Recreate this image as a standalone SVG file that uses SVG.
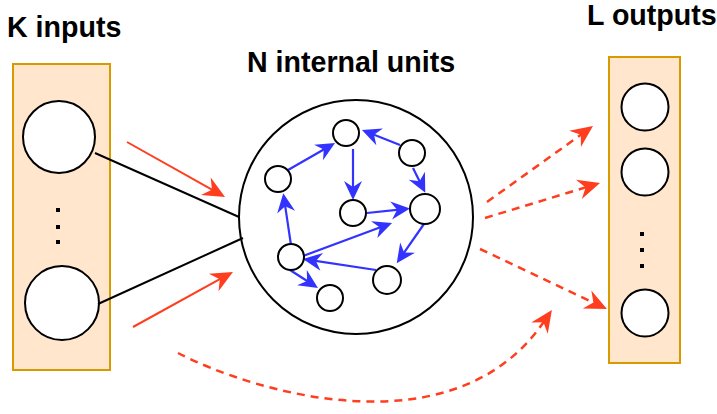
<svg xmlns="http://www.w3.org/2000/svg" width="717" height="414" viewBox="0 0 717 414">
  <style>
    .title { font-family: "Liberation Sans", Arial, sans-serif; font-weight: bold; font-size: 28.6px; fill: #000; }
    .layer { fill: #FFE6CC; stroke: #D79B00; stroke-width: 2; }
    .unit { fill: #FFFFFF; stroke: #000; stroke-width: 2; }
    .dot { fill: #000; }
    .wire { stroke: #000; stroke-width: 2; fill: none; }
    .feed { stroke: #FF3D1F; stroke-width: 2; fill: none; marker-end: url(#redHead); }
    .readout { stroke: #FF3D1F; stroke-width: 2.5; fill: none; stroke-dasharray: 8 6; marker-end: url(#redHead); }
    .recur { stroke: #3333FF; stroke-width: 2.2; fill: none; marker-end: url(#blueHead); }
  </style>
  <defs>
    <!-- classic notched arrowheads; the path end sits just ahead of the notch -->
    <marker id="redHead" markerUnits="userSpaceOnUse" viewBox="-23 -11 25 22" refX="-14" refY="0" markerWidth="25" markerHeight="22" orient="auto">
      <path d="M0,0 L-22,-10 L-15,0 L-22,10 Z" fill="#FF3D1F"/>
    </marker>
    <marker id="blueHead" markerUnits="userSpaceOnUse" viewBox="-21 -10 23 20" refX="-11" refY="0" markerWidth="23" markerHeight="20" orient="auto">
      <path d="M0,0 L-19,-9 L-13,0 L-19,9 Z" fill="#3333FF"/>
    </marker>
  </defs>

  <!-- titles -->
  <text class="title" x="7" y="37">K inputs</text>
  <text class="title" x="247" y="72">N internal units</text>
  <text class="title" x="587" y="25">L outputs</text>

  <!-- input layer -->
  <g id="inputs">
    <rect class="layer" x="13" y="64" width="97" height="306"/>
    <circle class="unit" cx="59" cy="137" r="36"/>
    <rect class="dot" x="56" y="208" width="4" height="4"/>
    <rect class="dot" x="56" y="225" width="4" height="4"/>
    <rect class="dot" x="56" y="240" width="4" height="4"/>
    <circle class="unit" cx="62" cy="303" r="37"/>
  </g>

  <!-- output layer -->
  <g id="outputs">
    <rect class="layer" x="609" y="57" width="71" height="306"/>
    <circle class="unit" cx="645" cy="107" r="23.5"/>
    <circle class="unit" cx="645" cy="172" r="23.5"/>
    <rect class="dot" x="640" y="232" width="4" height="4"/>
    <rect class="dot" x="640" y="248" width="4" height="4"/>
    <rect class="dot" x="640" y="264" width="4" height="4"/>
    <circle class="unit" cx="645" cy="313" r="23.5"/>
  </g>

  <!-- reservoir -->
  <g id="reservoir">
    <circle class="unit" cx="356" cy="217" r="117"/>
  </g>

  <!-- connectors between layers -->
  <g id="connectors">
    <line class="wire" x1="95" y1="153" x2="239" y2="217"/>
    <line class="wire" x1="98" y1="304" x2="243" y2="238"/>
    <line class="feed" x1="127" y1="142" x2="212.8" y2="190.2"/>
    <line class="feed" x1="133" y1="327" x2="220.7" y2="278.7"/>
    <line class="readout" x1="487" y1="202" x2="581.6" y2="134.2"/>
    <line class="readout" x1="485" y1="218" x2="586.6" y2="187.1"/>
    <line class="readout" x1="480" y1="249" x2="594.3" y2="303"/>
    <path class="readout" d="M178,353 C255,393 455,452 544,321.5"/>
  </g>

  <!-- recurrent links inside the reservoir -->
  <g id="recurrent">
    <line class="recur" x1="288" y1="170" x2="325.5" y2="148.5"/>
    <line class="recur" x1="400" y1="145" x2="372.2" y2="134"/>
    <line class="recur" x1="353" y1="149" x2="353" y2="189"/>
    <line class="recur" x1="413" y1="168" x2="420.4" y2="183"/>
    <line class="recur" x1="367" y1="213" x2="399.1" y2="209.6"/>
    <line class="recur" x1="303" y1="256" x2="381.7" y2="226.8"/>
    <line class="recur" x1="424" y1="224" x2="403" y2="254.2"/>
    <line class="recur" x1="376" y1="270" x2="313.9" y2="260.6"/>
    <line class="recur" x1="291" y1="245" x2="284.9" y2="204.2"/>
    <line class="recur" x1="290" y1="270" x2="308.7" y2="282"/>
  </g>

  <!-- reservoir units -->
  <g id="unit-1"><circle class="unit" cx="346" cy="133" r="13"/></g>
  <g id="unit-2"><circle class="unit" cx="412" cy="153" r="13"/></g>
  <g id="unit-3"><circle class="unit" cx="278" cy="179" r="13"/></g>
  <g id="unit-4"><circle class="unit" cx="353" cy="213" r="13"/></g>
  <g id="unit-5"><circle class="unit" cx="425" cy="209" r="15"/></g>
  <g id="unit-6"><circle class="unit" cx="291" cy="257" r="13"/></g>
  <g id="unit-7"><circle class="unit" cx="387" cy="280" r="14"/></g>
  <g id="unit-8"><circle class="unit" cx="330" cy="298" r="13"/></g>
</svg>
